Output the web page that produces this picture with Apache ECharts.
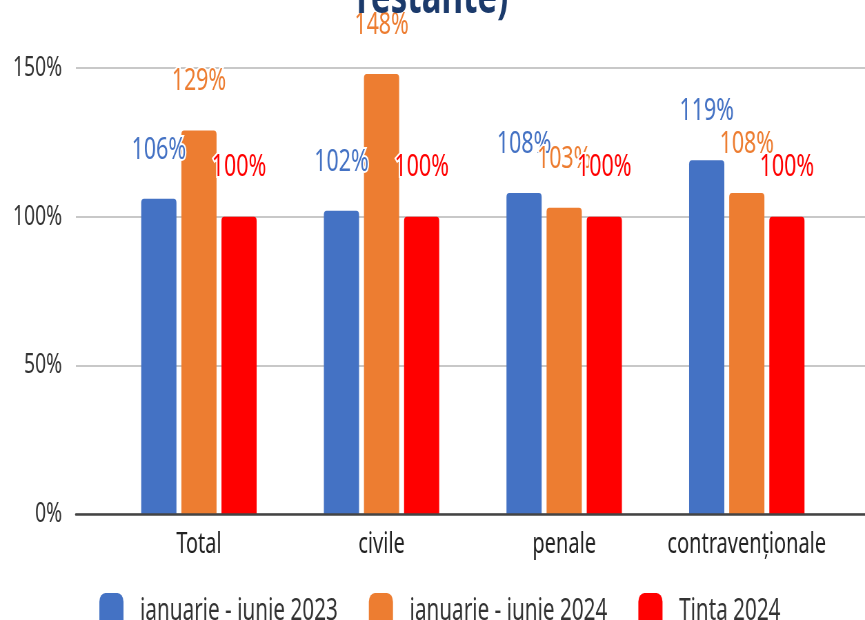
<!DOCTYPE html>
<html>
<head>
<meta charset="utf-8">
<script src="https://cdn.jsdelivr.net/npm/echarts@6/dist/echarts.min.js"></script>
<style>
  html, body { margin: 0; padding: 0; overflow: hidden; background: #fff; }
  /* canvasul e randat mai lat si comprimat pe orizontala, ca in imaginea originala */
  #main { width: 1254px; height: 620px; transform: scaleX(0.6898); transform-origin: 0 0; }
</style>
</head>
<body>
<div id="main"></div>
<script>
// date
const categories = ['Total', 'civile', 'penale', 'contravenționale'];
const seriesNames = ['ianuarie - iunie 2023', 'ianuarie - iunie 2024', 'Ținta 2024'];
const values2023 = [106, 102, 108, 119];
const values2024 = [129, 148, 103, 108];
const target2024 = [100, 100, 100, 100];
const colors = ['#4472C4', '#ED7D31', '#FF0000'];

const FONT = 'Noto Sans';

const chart = echarts.init(document.getElementById('main'));

function barSeries(name, data, color) {
  return {
    name: name,
    type: 'bar',
    xAxisIndex: 1,
    yAxisIndex: 1,
    data: data,
    barWidth: 51,
    barGap: '14%',
    itemStyle: { color: color, borderRadius: [4, 4, 0, 0] },
    label: {
      show: true,
      position: 'top',
      distance: 33,
      formatter: p => Math.round(p.value) + '%',
      color: color,
      fontFamily: FONT,
      fontSize: 31,
      lineHeight: 32,
      textBorderColor: '#fff',
      textBorderWidth: 4
    }
  };
}

const option = {
  animation: false,
  backgroundColor: '#fff',
  title: {
    text: 'restante)',
    left: 'center',
    top: -30,
    textStyle: { color: '#1b3a6b', fontFamily: FONT, fontWeight: 'bold', fontSize: 48, lineHeight: 48 }
  },
  legend: {
    data: seriesNames,
    left: 139,
    top: 588,
    itemWidth: 35,
    itemHeight: 36,
    itemGap: 45,
    icon: 'roundRect',
    textStyle: { color: '#333', fontFamily: FONT, fontSize: 30, padding: [0, 0, 0, 19] }
  },
  grid: [
    { left: 110, right: 0, top: 68, bottom: 106 },
    { left: 156, right: 39, top: 68, bottom: 106 }
  ],
  xAxis: [
    {
      gridIndex: 0,
      type: 'category',
      data: [''],
      axisLine: { show: true, lineStyle: { color: '#444', width: 2.5 } },
      axisTick: { show: false },
      axisLabel: { show: false },
      z: 5
    },
    {
      gridIndex: 1,
      type: 'category',
      data: categories,
      axisLine: { show: false },
      axisTick: { show: false },
      axisLabel: { interval: 0, color: '#222', fontFamily: FONT, fontSize: 29, margin: 16 }
    }
  ],
  yAxis: [
    {
      gridIndex: 0,
      type: 'value',
      min: 0,
      max: 150,
      interval: 50,
      axisLine: { show: false },
      axisTick: { show: false },
      axisLabel: { formatter: '{value}%', color: '#333', fontFamily: FONT, fontSize: 28, margin: 20 },
      splitLine: { lineStyle: { color: '#c8c8c8', width: 2 } }
    },
    {
      gridIndex: 1,
      type: 'value',
      min: 0,
      max: 150,
      interval: 50,
      show: false,
      splitLine: { show: false }
    }
  ],
  series: [
    barSeries(seriesNames[0], values2023, colors[0]),
    barSeries(seriesNames[1], values2024, colors[1]),
    barSeries(seriesNames[2], target2024, colors[2])
  ]
};

chart.setOption(option);
</script>
</body>
</html>
